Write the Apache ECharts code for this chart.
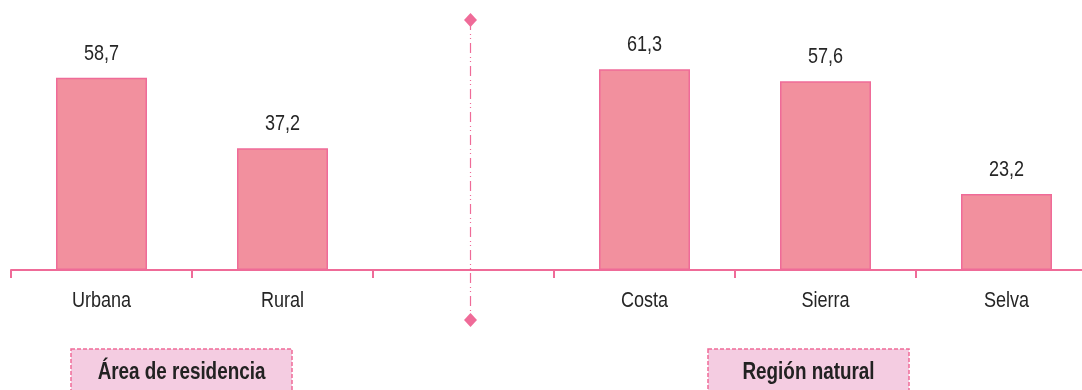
<!DOCTYPE html>
<html>
<head>
<meta charset="utf-8">
<script src="https://cdn.jsdelivr.net/npm/echarts@6/dist/echarts.min.js"></script>
<style>
html,body{margin:0;padding:0;background:#fff;}
#chart{width:1082px;height:390px;}
</style>
</head>
<body>
<div id="chart"></div>
<script>
const categories = ['Urbana', 'Rural', '', 'Costa', 'Sierra', 'Selva'];
const values = [58.7, 37.2, null, 61.3, 57.6, 23.2];
const groupLabels = ['Área de residencia', 'Región natural'];

const FONT = "'Liberation Sans Narrow','Arial Narrow','Liberation Sans',Arial,sans-serif";
const PINK = '#EF6B98';
const TEXT = '#262626';
const NARROW = 0.82;

const chart = echarts.init(document.getElementById('chart'), null, {renderer: 'canvas'});
const baseGraphic = [
  {type: 'line', shape: {x1: 470.5, y1: 20, x2: 470.5, y2: 320},
   style: {stroke: PINK, lineWidth: 1.2, lineDash: [10, 4, 1, 3, 1, 4]}},
  {type: 'polygon', shape: {points: [[470.5, 13], [477, 20], [470.5, 27], [464, 20]]}, style: {fill: PINK}},
  {type: 'polygon', shape: {points: [[470.5, 313], [477, 320], [470.5, 327], [464, 320]]}, style: {fill: PINK}},
  {type: 'rect', shape: {x: 71, y: 349, width: 221, height: 50},
   style: {fill: '#F4CCE1', stroke: PINK, lineWidth: 1.5, lineDash: [4, 2]}},
  {type: 'text', x: 181.5, y: 373, scaleX: NARROW,
   style: {text: groupLabels[0], fill: '#222', font: 'bold 23px ' + FONT, align: 'center', verticalAlign: 'middle'}},
  {type: 'rect', shape: {x: 708, y: 349, width: 201, height: 50},
   style: {fill: '#F4CCE1', stroke: PINK, lineWidth: 1.5, lineDash: [4, 2]}},
  {type: 'text', x: 808.5, y: 373, scaleX: NARROW,
   style: {text: groupLabels[1], fill: '#222', font: 'bold 23px ' + FONT, align: 'center', verticalAlign: 'middle'}}
];

const option = {
  animation: false,
  grid: {left: 11, top: 8, right: -15, height: 262, containLabel: false, outerBoundsMode: 'none'},
  xAxis: {
    type: 'category',
    data: categories,
    axisLine: {lineStyle: {color: PINK, width: 2}},
    axisTick: {show: true, length: 8, lineStyle: {color: PINK, width: 2}},
    axisLabel: {show: false}
  },
  yAxis: {type: 'value', min: 0, max: 80, show: false, splitLine: {show: false}},
  series: [{
    type: 'bar',
    data: values,
    barWidth: 91,
    itemStyle: {color: '#F2909E', borderColor: PINK, borderWidth: 1.5},
    label: {show: false}
  }],
  graphic: baseGraphic
};
chart.setOption(option);

// Narrow-font labels placed through the chart's own scales
const labelGraphic = [];
categories.forEach((c, i) => {
  const x = chart.convertToPixel({xAxisIndex: 0}, i);
  if (c) {
    const yAxis0 = chart.convertToPixel({yAxisIndex: 0}, 0);
    labelGraphic.push({type: 'text', x: x, y: yAxis0 + 31, scaleX: NARROW,
      style: {text: c, fill: TEXT, font: '22px ' + FONT, align: 'center', verticalAlign: 'middle'}});
  }
  if (values[i] != null) {
    const yTop = chart.convertToPixel({yAxisIndex: 0}, values[i]);
    labelGraphic.push({type: 'text', x: x, y: yTop - 24, scaleX: NARROW,
      style: {text: values[i].toFixed(1).replace('.', ','), fill: TEXT, font: '22px ' + FONT, align: 'center', verticalAlign: 'middle'}});
  }
});
chart.setOption({graphic: baseGraphic.concat(labelGraphic)});
</script>
</body>
</html>
